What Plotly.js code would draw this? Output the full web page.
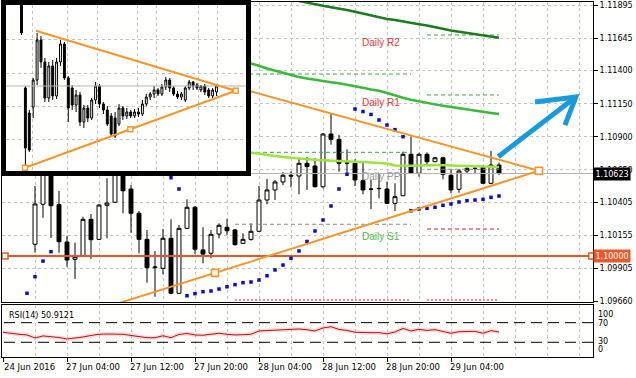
<!DOCTYPE html>
<html><head><meta charset="utf-8">
<script src="https://cdn.plot.ly/plotly-3.0.1.min.js"></script>
<style>html,body{margin:0;padding:0;background:#fff;}#chart{width:636px;height:378px;}</style>
</head><body><div id="chart"></div>
<script>
// ---------- main EURUSD H1 data (bar 0 = 24 Jun 2016 20:00) ----------
const timeLabels = ["24 Jun 2016","27 Jun 04:00","27 Jun 12:00","27 Jun 20:00","28 Jun 04:00","28 Jun 12:00","28 Jun 20:00","29 Jun 04:00"];
const labelBars = [0,8,16,24,32,40,48,56];
const gridBars = [4,8,12,16,20,24,28,32,36,40,44,48,52,56,60,64,68,72];
const priceTicks = [1.11895,1.11645,1.11400,1.11150,1.10900,1.10650,1.10405,1.10155,1.09905,1.09660];
const priceTickText = ["1.11895","1.11645","1.11400","1.11150","1.10900","1.10650","1.10405","1.10155","1.09905","1.09660"];

const open  = [1.10952,1.11027,1.10914,1.10989,1.10089,1.10391,1.10801,1.10388,1.10106,1.09975,1.10002,1.10277,1.10126,1.10383,1.10406,1.10650,1.10506,1.10323,1.10126,1.09912,1.09907,1.10134,1.09719,1.10209,1.10368,1.10046,1.10021,1.10166,1.10217,1.10197,1.10096,1.10126,1.10187,1.10423,1.10499,1.10559,1.10610,1.10604,1.10700,1.10680,1.10523,1.10921,1.10881,1.10705,1.10700,1.10569,1.10506,1.10511,1.10506,1.10398,1.10455,1.10768,1.10625,1.10768,1.10712,1.10742,1.10610,1.10504,1.10642,1.10662,1.10670,1.10549,1.10687];
const high  = [1.11103,1.11087,1.11042,1.11178,1.10529,1.10876,1.10838,1.10491,1.10153,1.10101,1.10297,1.10317,1.10393,1.10587,1.10687,1.10665,1.10536,1.10340,1.10197,1.10038,1.10204,1.10277,1.10234,1.10428,1.10378,1.10217,1.10197,1.10247,1.10280,1.10204,1.10172,1.10247,1.10529,1.10582,1.10574,1.10634,1.10640,1.10738,1.10748,1.10738,1.10929,1.11078,1.10914,1.10806,1.10730,1.10705,1.10574,1.10625,1.10561,1.10549,1.10788,1.10901,1.10780,1.10783,1.10748,1.10750,1.10655,1.10657,1.10668,1.10674,1.10687,1.10793,1.10705];
const low   = [1.10876,1.10861,1.10838,1.10952,1.10025,1.10289,1.10136,1.10025,1.09919,1.09827,1.09993,1.09978,1.10121,1.10134,1.10400,1.10323,1.10176,1.10021,1.09799,1.09693,1.09862,1.09711,1.09713,1.10204,1.10015,1.09945,1.09983,1.10134,1.10159,1.10079,1.10091,1.10116,1.10181,1.10391,1.10423,1.10536,1.10519,1.10466,1.10499,1.10519,1.10511,1.10841,1.10637,1.10619,1.10529,1.10466,1.10355,1.10436,1.10393,1.10340,1.10453,1.10619,1.10599,1.10693,1.10710,1.10579,1.10474,1.10478,1.10625,1.10619,1.10544,1.10542,1.10612];
const close = [1.11027,1.10914,1.10989,1.11103,1.10393,1.10801,1.10380,1.10108,1.09970,1.09995,1.10277,1.10123,1.10385,1.10400,1.10665,1.10493,1.10323,1.10126,1.09912,1.09917,1.10134,1.09719,1.10209,1.10368,1.10051,1.10015,1.10164,1.10232,1.10191,1.10086,1.10126,1.10187,1.10423,1.10499,1.10559,1.10610,1.10604,1.10700,1.10676,1.10523,1.10921,1.10881,1.10700,1.10702,1.10574,1.10499,1.10504,1.10509,1.10398,1.10448,1.10768,1.10625,1.10768,1.10712,1.10742,1.10617,1.10499,1.10642,1.10662,1.10661,1.10549,1.10687,1.10623];

// Parabolic SAR
const sar = [null,null,null,1.09719,1.09844,1.09962,1.10033,1.10876,1.10868,1.10853,1.10838,1.10823,1.10808,1.10793,1.10778,1.10763,1.10748,1.10725,1.10702,1.10680,1.10650,1.10591,1.10506,1.09700,1.09716,1.09731,1.09736,1.09751,1.09768,1.09784,1.09799,1.09804,1.09819,1.09851,1.09895,1.09932,1.09983,1.10038,1.10110,1.10189,1.10272,1.10378,1.10506,1.10617,1.11110,1.11091,1.11069,1.11027,1.10989,1.10954,1.10901,1.10342,1.10355,1.10360,1.10368,1.10383,1.10393,1.10408,1.10418,1.10423,1.10428,1.10443,1.10453];

// RSI(14)
const rsi = [50.4,48.0,46.3,44.9,38.8,42.9,41.4,39.8,36.7,38.2,40.8,43.9,46.3,46.9,46.9,46.3,43.9,41.2,39.4,39.4,43.3,39.4,45.9,48.0,44.9,44.3,46.3,48.4,46.3,44.9,45.5,46.3,53.1,54.1,54.7,55.7,57.1,57.1,55.5,53.1,59.2,61.8,56.1,54.1,50.4,49.6,49.6,49.6,47.3,51.0,58.2,53.1,56.5,54.1,55.7,52.0,48.4,51.6,52.0,52.4,48.4,53.7,50.91];
const rsiLevels = [70,30];

// indicator curves (first bar index + values)
const darkGreenStart = 35;
const darkGreen = [1.11950,1.11937,1.11925,1.11913,1.11901,1.11889,1.11879,1.11870,1.11858,1.11845,1.11831,1.11817,1.11803,1.11790,1.11782,1.11773,1.11761,1.11750,1.11740,1.11727,1.11714,1.11703,1.11694,1.11685,1.11676,1.11666,1.11657,1.11648];
const midGreenStart = 30;
const midGreen = [1.11469,1.11455,1.11437,1.11416,1.11399,1.11383,1.11367,1.11352,1.11340,1.11329,1.11320,1.11312,1.11305,1.11295,1.11284,1.11270,1.11257,1.11248,1.11231,1.11212,1.11195,1.11180,1.11167,1.11155,1.11145,1.11135,1.11125,1.11115,1.11108,1.11099,1.11090,1.11080,1.11072];
const limeStart = 30;
const lime = [1.10785,1.10780,1.10774,1.10763,1.10753,1.10748,1.10742,1.10736,1.10731,1.10727,1.10724,1.10720,1.10717,1.10715,1.10712,1.10710,1.10707,1.10704,1.10699,1.10683,1.10680,1.10681,1.10683,1.10686,1.10687,1.10686,1.10683,1.10681,1.10680,1.10678,1.10676,1.10674,1.10672];

// daily pivot levels
const prevDayBars = [29,51];
const prevDayLevels = [1.11374,1.10783,1.10240,1.09668];
const todayBars = [53,62];
const todayLevels = [1.11669,1.11216,1.10655,1.10204,1.09668];
const pivotLabels = ["Daily R2","Daily R1","Daily PP","Daily S1"];
const pivotLabelPrices = [1.11611,1.11161,1.10604,1.10151];
const pivotLabelBar = 44.6;

const bid = 1.10623;
const supportLevel = 1.10000;
const supportMarkerBars = [0.25,73.6];

// hand-drawn objects
const upperTrendBars = [10,67];
const upperTrendPrices = [1.11592,1.10644];
const lowerTrendBars = [-14,67];
const lowerTrendPrices = [1.09102,1.10644];
const trendMarkerBars = [26.5,67];
const trendMarkerPrices = [1.09873,1.10644];
const arrowBars = [61.9,71.6,null,66.5,71.6,70.25];
const arrowPrices = [1.10750,1.11201,null,1.11163,1.11201,1.10989];

// ---------- inset (wider-view snapshot) ----------
const insOpen  = [1.1244,1.1058,1.1008,1.1020,1.1074,1.1154,1.1110,1.1038,1.1102,1.1042,1.1110,1.1146,1.1078,1.1058,1.1024,1.1044,1.0990,1.1018,1.0998,1.1034,1.1062,1.1026,1.1014,1.1002,1.0998,1.0986,1.1018,1.1002,1.1010,1.1002,1.1010,1.1006,1.1026,1.1040,1.1046,1.1054,1.1046,1.1060,1.1074,1.1058,1.1046,1.1040,1.1034,1.1058,1.1070,1.1064,1.1054,1.1062,1.1054,1.1042,1.1050];
const insHigh  = [1.1254,1.1062,1.1014,1.1078,1.1168,1.1162,1.1118,1.1110,1.1114,1.1118,1.1154,1.1150,1.1082,1.1064,1.1054,1.1050,1.1024,1.1024,1.1038,1.1070,1.1066,1.1030,1.1022,1.1008,1.1010,1.1026,1.1022,1.1018,1.1014,1.1016,1.1018,1.1034,1.1046,1.1050,1.1062,1.1058,1.1066,1.1080,1.1078,1.1062,1.1052,1.1050,1.1062,1.1074,1.1072,1.1068,1.1064,1.1066,1.1058,1.1058,1.1066];
const insLow   = [1.1164,1.0900,1.0930,1.0998,1.1064,1.1098,1.1030,1.1030,1.1034,1.1036,1.1102,1.1074,1.0990,1.1014,1.1010,1.0982,1.0978,1.0990,1.0994,1.1026,1.1018,1.1006,1.0982,1.0960,1.0958,1.0982,1.0994,1.0996,1.0998,1.0998,1.1000,1.1002,1.1022,1.1034,1.1038,1.1042,1.1042,1.1054,1.1050,1.1042,1.1036,1.1034,1.1030,1.1054,1.1054,1.1054,1.1050,1.1044,1.1038,1.1038,1.1042];
const insClose = [1.1168,1.0938,1.0934,1.1074,1.1154,1.1110,1.1038,1.1102,1.1042,1.1110,1.1146,1.1078,1.1018,1.1024,1.1044,1.0990,1.1018,1.0998,1.1034,1.1062,1.1026,1.1014,1.0986,1.0966,1.0962,1.1018,1.1002,1.1010,1.1002,1.1010,1.1006,1.1026,1.1040,1.1046,1.1054,1.1046,1.1060,1.1074,1.1058,1.1046,1.1040,1.1046,1.1058,1.1070,1.1062,1.1058,1.1062,1.1050,1.1042,1.1054,1.1062];
const insBid = 1.1062;
const insGridBars = [2.95,11.67,19.36,29.62,34.74,45.26,50.38];
const insGridPrices = [1.1154,1.10874,1.10206,1.09554];
const insUpperBars = [3.72,54.92];
const insUpperPrices = [1.11726,1.10526];
const insLowerBars = [0.9,54.92];
const insLowerPrices = [1.08986,1.10526];
const insMarkerBars = [0.9,27.91,54.92];
const insMarkerPrices = [1.08986,1.09756,1.10526];

// ---------- styles ----------
const ORANGE = '#f3962c', REDORANGE = '#e05a28', BLUEARROW = '#1b9ad8';
const GRID = '#c4c4c4';
const bars = open.map((_, i) => i);
const insBars = insOpen.map((_, i) => i);
const seq = (start, arr) => arr.map((_, i) => start + i);

const traces = [];
traces.push({type:'candlestick', x:bars, open:open, high:high, low:low, close:close, xaxis:'x', yaxis:'y',
  increasing:{line:{color:'#000',width:1}, fillcolor:'#ffffff'},
  decreasing:{line:{color:'#000',width:1}, fillcolor:'#000000'}, whiskerwidth:0, hoverinfo:'skip'});

// pivot level segments
const prevColors = ['#3fa83f','#3fa83f','#8c8c8c','#d02020'];
prevDayLevels.forEach((lv, i) => traces.push({type:'scatter', mode:'lines', x:prevDayBars, y:[lv,lv], xaxis:'x', yaxis:'y',
  line:{color:prevColors[i], width:1, dash: i===3 ? '2px,2px' : '4px,3px'}, hoverinfo:'skip'}));
const todayColors = ['#3fa83f','#3fa83f','#8c8c8c','#d02020','#d02020'];
todayLevels.forEach((lv, i) => traces.push({type:'scatter', mode:'lines', x:todayBars, y:[lv,lv], xaxis:'x', yaxis:'y',
  line:{color:todayColors[i], width:1, dash: i===4 ? '2px,2px' : '4px,3px'}, hoverinfo:'skip'}));

// bid line
traces.push({type:'scatter', mode:'lines', x:[-2,80], y:[bid,bid], xaxis:'x', yaxis:'y', line:{color:'#b4b4b4', width:1}, hoverinfo:'skip'});

// indicator curves
traces.push({type:'scatter', mode:'lines', x:seq(darkGreenStart,darkGreen), y:darkGreen, xaxis:'x', yaxis:'y', line:{color:'#1d7a1d', width:2.5}, hoverinfo:'skip'});
traces.push({type:'scatter', mode:'lines', x:seq(midGreenStart,midGreen), y:midGreen, xaxis:'x', yaxis:'y', line:{color:'#3cb83c', width:2.5}, hoverinfo:'skip'});
traces.push({type:'scatter', mode:'lines', x:seq(limeStart,lime), y:lime, xaxis:'x', yaxis:'y', line:{color:'#9be43c', width:2.5}, hoverinfo:'skip'});

// support 1.10000
traces.push({type:'scatter', mode:'lines', x:[-2,80], y:[supportLevel,supportLevel], xaxis:'x', yaxis:'y', line:{color:REDORANGE, width:2}, hoverinfo:'skip'});
traces.push({type:'scatter', mode:'markers', x:supportMarkerBars, y:supportMarkerBars.map(() => supportLevel), xaxis:'x', yaxis:'y', cliponaxis:false,
  marker:{symbol:'square', size:6, color:'#ffffff', line:{color:REDORANGE, width:1.5}}, hoverinfo:'skip'});

// SAR
traces.push({type:'scatter', mode:'markers', x:bars, y:sar, xaxis:'x', yaxis:'y', marker:{symbol:'square', size:3.5, color:'#0a0ac8'}, hoverinfo:'skip'});

// triangle trend lines
traces.push({type:'scatter', mode:'lines', x:upperTrendBars, y:upperTrendPrices, xaxis:'x', yaxis:'y', line:{color:ORANGE, width:2}, hoverinfo:'skip'});
traces.push({type:'scatter', mode:'lines', x:lowerTrendBars, y:lowerTrendPrices, xaxis:'x', yaxis:'y', line:{color:ORANGE, width:2}, hoverinfo:'skip'});
traces.push({type:'scatter', mode:'markers', x:trendMarkerBars, y:trendMarkerPrices, xaxis:'x', yaxis:'y',
  marker:{symbol:'square', size:7, color:'#ffffff', line:{color:ORANGE, width:1.6}}, hoverinfo:'skip'});

// blue arrow
traces.push({type:'scatter', mode:'lines', x:arrowBars, y:arrowPrices, xaxis:'x', yaxis:'y', line:{color:BLUEARROW, width:5}, hoverinfo:'skip'});

// RSI panel
rsiLevels.forEach(lv => traces.push({type:'scatter', mode:'lines', x:[-2,80], y:[lv,lv], xaxis:'x2', yaxis:'y2', line:{color:'#000', width:1, dash:'11px,6px'}, hoverinfo:'skip'}));
traces.push({type:'scatter', mode:'lines', x:bars, y:rsi, xaxis:'x2', yaxis:'y2', line:{color:'rgba(255,140,140,0.35)', width:4}, hoverinfo:'skip'});
traces.push({type:'scatter', mode:'lines', x:bars, y:rsi, xaxis:'x2', yaxis:'y2', line:{color:'#b01818', width:1}, hoverinfo:'skip'});

// inset
traces.push({type:'candlestick', x:insBars, open:insOpen, high:insHigh, low:insLow, close:insClose, xaxis:'x3', yaxis:'y3',
  increasing:{line:{color:'#000',width:1}, fillcolor:'#ffffff'},
  decreasing:{line:{color:'#000',width:1}, fillcolor:'#000000'}, whiskerwidth:0, hoverinfo:'skip'});
traces.push({type:'scatter', mode:'lines', x:[-10,70], y:[insBid,insBid], xaxis:'x3', yaxis:'y3', line:{color:'#b4b4b4', width:1}, hoverinfo:'skip'});
traces.push({type:'scatter', mode:'lines', x:insUpperBars, y:insUpperPrices, xaxis:'x3', yaxis:'y3', line:{color:ORANGE, width:2}, hoverinfo:'skip'});
traces.push({type:'scatter', mode:'lines', x:insLowerBars, y:insLowerPrices, xaxis:'x3', yaxis:'y3', line:{color:ORANGE, width:2}, hoverinfo:'skip'});
traces.push({type:'scatter', mode:'markers', x:insMarkerBars, y:insMarkerPrices, xaxis:'x3', yaxis:'y3',
  marker:{symbol:'square', size:5, color:'#ffffff', line:{color:ORANGE, width:1.4}}, hoverinfo:'skip'});

// ---------- annotations ----------
const ann = [];
timeLabels.forEach((t, i) => ann.push({xref:'x2', x:labelBars[i], xshift: i === 0 ? -1 : -3, yref:'paper', y:0, yanchor:'top', yshift:-3,
  xanchor:'left', text:t, showarrow:false, font:{size:8.5, color:'#000'}}));
ann.push({xref:'paper', x:1, xanchor:'left', xshift:0, yref:'y', y:bid, text:'1.10623', showarrow:false,
  bgcolor:'#000000', font:{size:8, color:'#ffffff'}, borderpad:1.5});
ann.push({xref:'paper', x:1, xanchor:'left', xshift:0, yref:'y', y:supportLevel, text:'1.10000', showarrow:false,
  bgcolor:'#e8582a', font:{size:8, color:'#ffffff'}, borderpad:1.5});
const pivotColors = ['#e03a3a','#e03a3a','#9a9a9a','#4cbc4c'];
pivotLabels.forEach((t, i) => ann.push({xref:'x', x:pivotLabelBar, xanchor:'left', yref:'y', y:pivotLabelPrices[i], text:t,
  showarrow:false, font:{family:'Liberation Sans, Arial, sans-serif', size:10, color:pivotColors[i]}}));
[['100',87.6],['70',69.3],['30',30.6],['0',14.3]].forEach(p => ann.push({xref:'paper', x:1, xanchor:'left', xshift:3,
  yref:'y2', y:p[1], text:p[0], showarrow:false, font:{size:8, color:'#000'}}));
ann.push({xref:'paper', x:0.009, xanchor:'left', yref:'y2', y:85.6, text:'RSI(14) 50.9121', showarrow:false, font:{size:8, color:'#000'}});

const layout = {
  width:636, height:378, margin:{l:2, r:43, t:2, b:21},
  paper_bgcolor:'#ffffff', plot_bgcolor:'#fffffe', showlegend:false, hovermode:false, dragmode:false,
  font:{family:'DejaVu Sans, Verdana, sans-serif', size:8, color:'#000'},
  xaxis:{domain:[0,1], anchor:'y', range:[-0.125,73.75], tickmode:'array', tickvals:gridBars, showticklabels:false, ticks:'',
    showgrid:true, gridcolor:GRID, griddash:'3px,3px', zeroline:false, showline:true, mirror:true, linecolor:'#000', linewidth:1,
    rangeslider:{visible:false}, fixedrange:true},
  yaxis:{domain:[0.1549,1], anchor:'x', side:'right', range:[1.096529,1.119179], tickmode:'array', tickvals:priceTicks, ticktext:priceTickText,
    ticks:'outside', ticklen:4, tickcolor:'#000', showgrid:true, gridcolor:GRID, griddash:'3px,3px', zeroline:false,
    showline:true, mirror:true, linecolor:'#000', linewidth:1, tickfont:{size:8}, fixedrange:true},
  xaxis2:{domain:[0,1], anchor:'y2', range:[-0.125,73.75], tickmode:'array', tickvals:labelBars, showticklabels:false,
    ticks:'outside', ticklen:4, tickcolor:'#000', showgrid:true, gridcolor:GRID, griddash:'3px,3px',
    minor:{tickmode:'array', tickvals:gridBars, showgrid:true, gridcolor:GRID, griddash:'3px,3px', ticks:''},
    zeroline:false, showline:true, mirror:true, linecolor:'#000', linewidth:1, fixedrange:true},
  yaxis2:{domain:[0,0.1465], anchor:'x2', side:'right', range:[0,106], showticklabels:false, ticks:'', showgrid:false, zeroline:false,
    showline:true, mirror:true, linecolor:'#000', linewidth:1, fixedrange:true},
  xaxis3:{domain:[0.00677,0.41286], anchor:'y3', range:[-3.97,57.56], tickmode:'array', tickvals:insGridBars, showticklabels:false, ticks:'',
    showgrid:true, gridcolor:GRID, griddash:'3px,3px', zeroline:false, showline:true, mirror:true, linecolor:'#000', linewidth:5,
    rangeslider:{visible:false}, fixedrange:true},
  yaxis3:{domain:[0.52394,0.99155], anchor:'x3', range:[1.0892,1.1224], tickmode:'array', tickvals:insGridPrices, showticklabels:false, ticks:'',
    showgrid:true, gridcolor:GRID, griddash:'3px,3px', zeroline:false, showline:true, mirror:true, linecolor:'#000', linewidth:5, fixedrange:true},
  annotations: ann
};
Plotly.newPlot('chart', traces, layout, {staticPlot:true, displayModeBar:false});
</script></body></html>
